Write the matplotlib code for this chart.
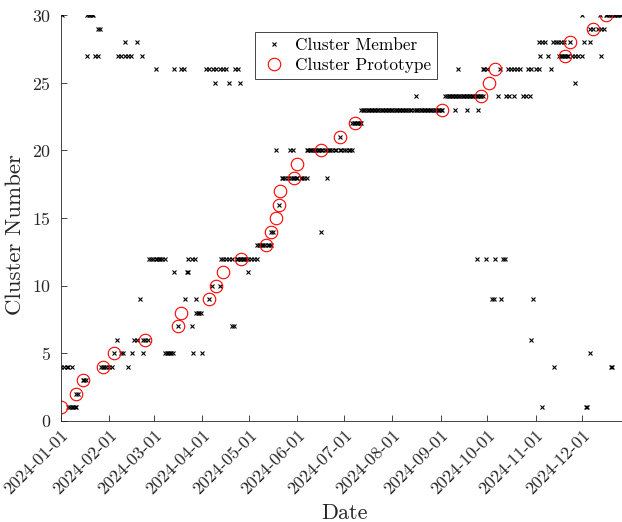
import numpy as np
import matplotlib
matplotlib.use("Agg")
import matplotlib.pyplot as plt
import matplotlib.dates as mdates

plt.rcParams['font.family'] = 'serif'
plt.rcParams['font.serif'] = ['cmr10']
plt.rcParams['axes.formatter.use_mathtext'] = True
plt.rcParams['mathtext.fontset'] = 'cm'

# days counted from 2024-01-01
start = np.datetime64('2024-01-01')
last_day = 365

# cluster prototypes: day of the prototype for cluster 1..30
proto_days = [0, 10, 14, 27, 34, 54, 75, 77, 95, 100,
              104, 116, 132, 135, 138, 140, 141, 150, 152, 167,
              179, 189, 245, 270, 275, 279, 324, 327, 342, 350]

# cluster members (days), one list per cluster
m1 = [5, 6, 7, 8, 9, 10, 309, 337, 338]
m2 = [10, 11]
m3 = [14, 15, 16]
m4 = [0, 2, 4, 5, 7, 26, 27, 28, 29, 31, 33, 43, 317, 353, 354]
m5 = [34, 39, 40, 46, 53, 67, 68, 69, 70, 71, 72, 85, 91, 340]
m6 = [36, 47, 49, 53, 54, 56, 302]
m7 = [75, 84, 110, 111]
m8 = [87, 88, 89, 90]
m9 = [51, 80, 87, 95, 277, 278, 283, 303]
m10 = [97, 102]
m11 = [73, 81, 82, 120]
m12 = [57, 58, 59, 61, 62, 63, 64, 65, 67, 82, 84, 86, 103, 104, 106, 108,
       110, 113, 114, 115, 116, 117, 118, 119, 120, 122, 124, 126,
       267, 273, 279, 284, 285]
m13 = [126, 127, 128, 129, 130, 131, 133, 134, 135]
m14 = [135, 136, 167]
m15 = []
m16 = [140]
m17 = []
m18 = [142, 143, 144, 146, 148, 149, 150, 151, 152, 154, 155, 156, 158, 171]
m19 = []
m20 = [138, 147, 149, 158, 159, 160, 161, 162, 163, 164, 165, 166, 167, 168,
       170, 171, 172, 173, 174, 176, 177, 179, 180, 182, 183, 185, 186, 187]
m21 = [179]
m22 = [187, 188, 189, 190, 191, 192, 193]
m23 = [193, 194, 195, 196, 197, 198, 199, 200, 201, 202, 203, 204, 205, 206,
       207, 208, 209, 210, 211, 212, 213, 214, 215, 216, 217, 218, 219, 220,
       221, 222, 223, 224, 225, 227, 228, 229, 230, 231, 232, 233, 234, 235,
       236, 237, 238, 239, 240, 241, 242, 243, 244, 245, 253, 261, 268]
m24 = [228, 247, 248, 249, 250, 251, 252, 253, 254, 255, 256, 257, 258, 259,
       260, 261, 262, 263, 264, 265, 266, 267, 268, 269, 270, 271,
       281, 286, 288, 291, 297, 299, 301]
m25 = [99, 108, 115, 330]
m26 = [61, 73, 77, 79, 93, 95, 98, 100, 102, 104, 106, 112, 114, 255,
       271, 272, 274, 282, 287, 289, 291, 293, 295, 300, 302, 305, 307, 315]
m27 = [17, 22, 24, 37, 39, 41, 43, 45, 52, 308, 313, 320, 321, 322, 323,
       324, 325, 326, 328, 330, 332, 335, 347]
m28 = [41, 49, 307, 309, 311, 316, 318, 319, 321, 323, 327, 336, 340]
m29 = [24, 25, 340, 342, 345, 347, 349]
m30 = [1, 17, 18, 19, 20, 21, 335, 346, 350, 351, 352, 353, 354, 355, 356,
       357, 358, 359, 360]

members = [m1, m2, m3, m4, m5, m6, m7, m8, m9, m10, m11, m12, m13, m14, m15,
           m16, m17, m18, m19, m20, m21, m22, m23, m24, m25, m26, m27, m28,
           m29, m30]

mem_x = []
mem_y = []
for k, days in enumerate(members):
    for d in days:
        mem_x.append(start + np.timedelta64(d, 'D'))
        mem_y.append(k + 1)
proto_x = [start + np.timedelta64(d, 'D') for d in proto_days]
proto_y = list(range(1, len(proto_days) + 1))

fig = plt.figure(figsize=(6.22, 5.22), dpi=100)
# the axes run slightly past the right edge of the picture, as in the original
ax = fig.add_axes([0.0976, 0.194, 0.914, 0.7766])

ax.plot(mem_x, mem_y, 'x', color='black', markersize=3.5, markeredgewidth=0.8,
        label='Cluster Member')
ax.plot(proto_x, proto_y, 'o', markerfacecolor='none', markeredgecolor='red',
        markersize=9, markeredgewidth=0.8, label='Cluster Prototype')

ax.set_xlim(start, start + np.timedelta64(last_day, 'D'))
ax.set_ylim(0, 30)
ax.set_yticks([0, 5, 10, 15, 20, 25, 30])
ax.xaxis.set_major_locator(mdates.MonthLocator())
ax.xaxis.set_major_formatter(mdates.DateFormatter('%Y-%m-%d'))
plt.setp(ax.get_xticklabels(), rotation=45, ha='right', rotation_mode='anchor')

for s in ['top', 'right']:
    ax.spines[s].set_visible(False)
for s in ['left', 'bottom']:
    ax.spines[s].set_color('#262626')
    ax.spines[s].set_linewidth(0.6)
ax.tick_params(direction='in', length=4.5, width=0.6, color='#262626',
               labelsize=12.8, labelcolor='#262626')
ax.tick_params(axis='y', pad=7)
ax.tick_params(axis='x', pad=5)

ax.set_xlabel('Date', fontsize=16, color='#262626', labelpad=4)
ax.set_ylabel('Cluster Number', fontsize=16.5, color='#262626')
ax.yaxis.set_label_coords(-0.062, 0.46)

leg = ax.legend(loc='upper left', bbox_to_anchor=(0.342, 0.96), fontsize=12.4,
                fancybox=False, edgecolor='#262626', framealpha=1,
                handlelength=1.5, handletextpad=0.45, borderpad=0.35,
                labelspacing=0.25, borderaxespad=0)
leg.get_frame().set_linewidth(0.6)

fig.savefig('out.png', dpi=100)
